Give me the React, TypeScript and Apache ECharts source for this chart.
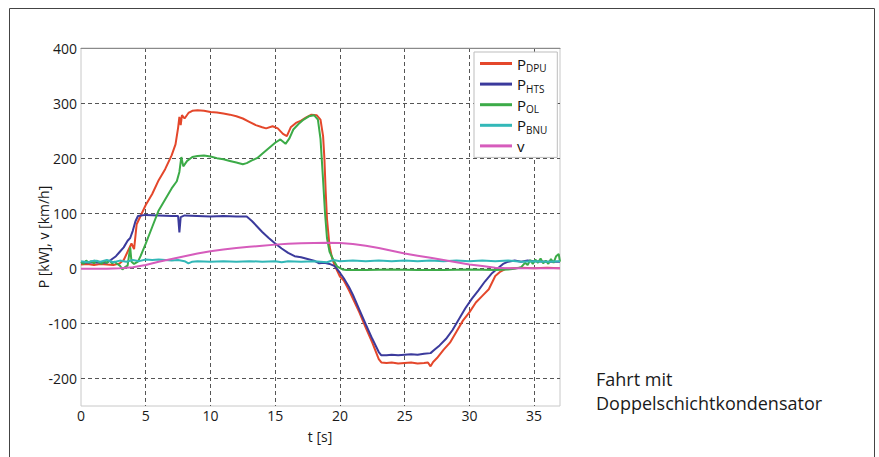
import React, { useEffect, useRef } from "react";
import * as echarts from "echarts";

// ---- data (t [s], value) ----
const seriesNames = ["P_DPU", "P_HTS", "P_OL", "P_BNU", "v"];

const pDPU: [number, number][] = [
  [0, 7], [0.5, 8], [1, 6], [1.5, 8], [2, 7], [2.5, 6], [3, 9], [3.3, 15], [3.6, 30], [3.9, 45], [4.1, 35],
  [4.3, 80], [4.6, 95], [5, 115], [5.5, 135], [6, 160], [6.5, 180], [7, 205], [7.3, 225], [7.5, 255],
  [7.6, 275], [7.7, 260], [7.8, 278], [8, 272], [8.3, 282], [8.6, 286], [9, 287], [9.5, 286], [10, 284],
  [10.5, 283], [11, 281], [11.5, 279], [12, 276], [12.5, 272], [13, 266], [13.5, 260], [14, 256], [14.3, 254],
  [14.8, 258], [15.2, 254], [15.6, 244], [15.9, 240], [16.2, 256], [16.6, 264], [17, 268], [17.4, 274],
  [17.8, 279], [18.2, 278], [18.5, 270], [18.7, 240], [18.8, 200], [18.9, 140], [19, 90], [19.2, 40],
  [19.4, 18], [19.6, 5], [19.8, -5], [20, -15], [20.3, -22], [20.7, -40], [21, -55], [21.5, -80], [22, -108],
  [22.5, -135], [23, -165], [23.2, -171], [23.6, -172], [24, -171], [24.5, -173], [25, -172], [25.5, -171],
  [26, -173], [26.5, -172], [26.8, -171], [27, -178], [27.2, -170], [27.5, -163], [28, -148], [28.5, -135],
  [29, -115], [29.5, -95], [30, -80], [30.5, -62], [31, -50], [31.5, -38], [32, -14], [32.4, -6], [32.8, -1],
  [33.3, 0], [34, 1], [35, 0], [36, 1], [37, 0],
];

const pHTS: [number, number][] = [
  [0, 10], [1, 11], [2, 10], [2.3, 15], [2.7, 22], [3, 30], [3.3, 38], [3.6, 50], [3.8, 55], [4, 68],
  [4.2, 85], [4.4, 95], [5, 97], [6, 96], [7, 95], [7.5, 95], [7.6, 65], [7.7, 93], [8, 96], [9, 95],
  [10, 94], [11, 95], [12, 94], [12.8, 94], [13.2, 86], [13.6, 76], [14, 66], [14.5, 55], [15, 45],
  [15.5, 36], [16, 28], [16.5, 22], [17, 20], [17.5, 17], [18, 14], [18.4, 9], [18.8, 10], [19.2, 8],
  [19.6, 4], [20, -8], [20.3, -18], [20.7, -34], [21, -48], [21.5, -75], [22, -102], [22.5, -128],
  [23, -152], [23.2, -158], [23.6, -158], [24, -157], [24.5, -158], [25, -157], [25.5, -156], [26, -157],
  [26.5, -155], [27, -154], [27.3, -148], [27.7, -140], [28.2, -128], [28.7, -112], [29.2, -92],
  [29.7, -72], [30.2, -55], [30.7, -40], [31.2, -24], [31.7, -10], [32.2, 0], [32.6, 8], [33, 12],
  [33.5, 14], [34, 12], [34.5, 14], [35, 13], [36, 12], [37, 12],
];

const pOL: [number, number][] = [
  [0, 12], [0.2, 8], [0.4, 14], [0.6, 10], [0.8, 13], [1, 9], [1.2, 14], [1.4, 11], [1.6, 8], [1.8, 13],
  [2, 10], [2.2, 14], [2.4, 9], [2.6, 12], [2.8, 8], [3, 5], [3.2, -2], [3.4, 2], [3.6, 5], [3.8, 38],
  [3.9, 12], [4.1, 8], [4.4, 12], [4.6, 22], [5, 45], [5.5, 75], [6, 105], [6.5, 125], [7, 145],
  [7.4, 158], [7.6, 175], [7.75, 202], [7.9, 185], [8.2, 195], [8.6, 202], [9, 204], [9.5, 205],
  [10, 203], [10.5, 200], [11, 198], [11.5, 195], [12, 192], [12.5, 189], [12.8, 191], [13.2, 196],
  [13.6, 200], [14, 208], [14.5, 218], [15, 228], [15.4, 234], [15.8, 226], [16.1, 236], [16.4, 252],
  [16.8, 262], [17.2, 270], [17.6, 276], [18, 278], [18.3, 270], [18.5, 235], [18.7, 160], [18.85, 100],
  [19, 55], [19.2, 30], [19.5, 15], [19.8, 3], [20.2, -2], [20.5, -3], [22, -3], [24, -2], [26, -3],
  [28, -3], [30, -2], [32, -3], [33, -2], [33.5, -1], [34, 2], [34.3, 10], [34.5, 6], [34.7, 15],
  [34.9, 8], [35.1, 16], [35.3, 10], [35.5, 18], [35.7, 9], [35.9, 14], [36.1, 8], [36.3, 17],
  [36.5, 10], [36.7, 22], [36.9, 26], [37, 12],
];

const pBNU: [number, number][] = [
  [0, 13], [0.5, 11], [1, 14], [1.5, 12], [2, 15], [2.5, 11], [3, 14], [3.5, 12], [4, 15], [4.5, 13],
  [5, 16], [5.5, 15], [6, 16], [6.5, 15], [7, 14], [7.5, 15], [8, 13], [8.3, 9], [8.6, 12], [9, 13],
  [10, 12], [11, 13], [12, 12], [13, 13], [14, 12], [15, 13], [15.5, 11], [16, 13], [17, 12], [18, 13],
  [19, 11], [19.5, 15], [20, 13], [21, 14], [22, 13], [23, 14], [24, 13], [25, 14], [26, 13], [27, 14],
  [28, 13], [29, 14], [30, 13], [31, 14], [32, 13], [33, 14], [34, 12], [35, 13], [36, 12], [37, 13],
];

const vKmh: [number, number][] = [
  [0, -1], [1, -1], [2, -1], [3, 0], [3.5, 1], [4, 2], [5, 6], [6, 12], [7, 17], [8, 22], [9, 27],
  [10, 31], [11, 34], [12, 37], [13, 39], [14, 41], [15, 43], [16, 44.5], [17, 45.5], [18, 46],
  [19, 46.5], [20, 46], [21, 44], [22, 41], [23, 37], [24, 32], [25, 27], [26, 23], [27, 19], [28, 15],
  [29, 11], [30, 7], [31, 4], [32, 1], [33, 0], [34, 0], [35, 0], [36, 0], [37, 0],
];

const seriesData = [pDPU, pHTS, pOL, pBNU, vKmh];
const seriesColors = ["#e4472b", "#3b3a9c", "#3cab48", "#33b8b8", "#d65cbc"];
const legendRich: Record<string, string> = {
  P_DPU: "{p|P}{s|DPU}",
  P_HTS: "{p|P}{s|HTS}",
  P_OL: "{p|P}{s|OL}",
  P_BNU: "{p|P}{s|BNU}",
  v: "{p|v}",
};

const FONT = "'Open Sans', 'Noto Sans', sans-serif";

export default function App() {
  const ref = useRef<HTMLDivElement>(null);
  useEffect(() => {
    if (!ref.current) return;
    const chart = echarts.init(ref.current, null, { renderer: "svg" });
    chart.setOption({
      animation: false,
      backgroundColor: "#ffffff",
      textStyle: { fontFamily: FONT },
      grid: {
        left: 81,
        top: 48,
        right: 319,
        bottom: 51,
        show: true,
        borderColor: "#c8c8c8",
        borderWidth: 1,
        backgroundColor: "#ffffff",
      },
      legend: {
        data: seriesNames,
        orient: "vertical",
        left: 474,
        top: 52,
        padding: [4, 10, 4, 6],
        itemGap: 3.6,
        itemWidth: 32,
        itemHeight: 3,
        icon: "rect",
        selectedMode: false,
        borderColor: "#bdbdbd",
        borderWidth: 1,
        backgroundColor: "#ffffff",
        formatter: (name: string) => legendRich[name],
        textStyle: {
          color: "#111",
          fontFamily: FONT,
          rich: {
            p: { fontSize: 15, lineHeight: 19, verticalAlign: "middle", color: "#111", fontFamily: FONT },
            s: { fontSize: 10, lineHeight: 10, verticalAlign: "bottom", color: "#111", fontFamily: FONT },
          },
        },
      },
      xAxis: [
        {
          type: "value",
          min: 0,
          max: 37,
          interval: 5,
          axisLine: { show: false },
          axisTick: { show: false },
          axisLabel: {
            margin: 2,
            fontSize: 14,
            color: "#1a1a1a",
            fontFamily: FONT,
            showMaxLabel: false,
          },
          splitLine: {
            show: true,
            showMinLine: false,
            showMaxLine: false,
            lineStyle: { color: "#555555", type: [4, 3], width: 1 },
          },
        },
        {
          type: "value",
          position: "top",
          min: 0,
          max: 37,
          axisLine: { show: true, lineStyle: { color: "#8a8a8a", width: 1 } },
          axisTick: { show: false },
          axisLabel: { show: false },
          splitLine: { show: false },
        },
      ],
      yAxis: {
        type: "value",
        min: -250,
        max: 400,
        interval: 50,
        axisLine: { show: false },
        axisTick: { show: false },
        axisLabel: {
          margin: 4,
          fontSize: 14,
          color: "#1a1a1a",
          fontFamily: FONT,
          formatter: (val: number) => (val % 100 === 0 ? String(val) : ""),
        },
        splitLine: {
          show: true,
          showMaxLine: false,
          lineStyle: { color: ["rgba(0,0,0,0)", "#555555"], type: [4, 3], width: 1 },
        },
      },
      series: seriesNames.map((name, i) => ({
        name,
        type: "line",
        xAxisIndex: 0,
        data: seriesData[i],
        showSymbol: false,
        symbol: "none",
        color: seriesColors[i],
        lineStyle: { width: 2, color: seriesColors[i] },
        z: 2 + i,
      })),
      graphic: [
        { type: "line", shape: { x1: 9.5, y1: 8.5, x2: 874.5, y2: 8.5 }, style: { stroke: "#444", lineWidth: 1 } },
        { type: "line", shape: { x1: 9.5, y1: 8.5, x2: 9.5, y2: 457 }, style: { stroke: "#444", lineWidth: 1 } },
        { type: "line", shape: { x1: 874.5, y1: 8.5, x2: 874.5, y2: 457 }, style: { stroke: "#444", lineWidth: 1 } },
        {
          type: "text",
          x: 43,
          y: 237,
          rotation: Math.PI / 2,
          style: {
            text: "P [kW], v [km/h]",
            fontSize: 14,
            fontFamily: FONT,
            fill: "#1a1a1a",
            align: "center",
            verticalAlign: "middle",
          },
        },
        {
          type: "text",
          x: 320,
          y: 436,
          style: {
            text: "t [s]",
            fontSize: 14,
            fontFamily: FONT,
            fill: "#1a1a1a",
            align: "center",
            verticalAlign: "middle",
          },
        },
        {
          type: "text",
          x: 596,
          y: 378.5,
          style: { text: "Fahrt mit", fontSize: 18, fontFamily: FONT, fill: "#1a1a1a", align: "left", verticalAlign: "middle" },
        },
        {
          type: "text",
          x: 596,
          y: 402.5,
          style: {
            text: "Doppelschichtkondensator",
            fontSize: 18,
            fontFamily: FONT,
            fill: "#1a1a1a",
            align: "left",
            verticalAlign: "middle",
          },
        },
      ],
    });
    return () => chart.dispose();
  }, []);
  return (
    <div
      ref={ref}
      style={{ position: "fixed", left: 0, top: 0, width: 879, height: 457, background: "#fff" }}
    />
  );
}
